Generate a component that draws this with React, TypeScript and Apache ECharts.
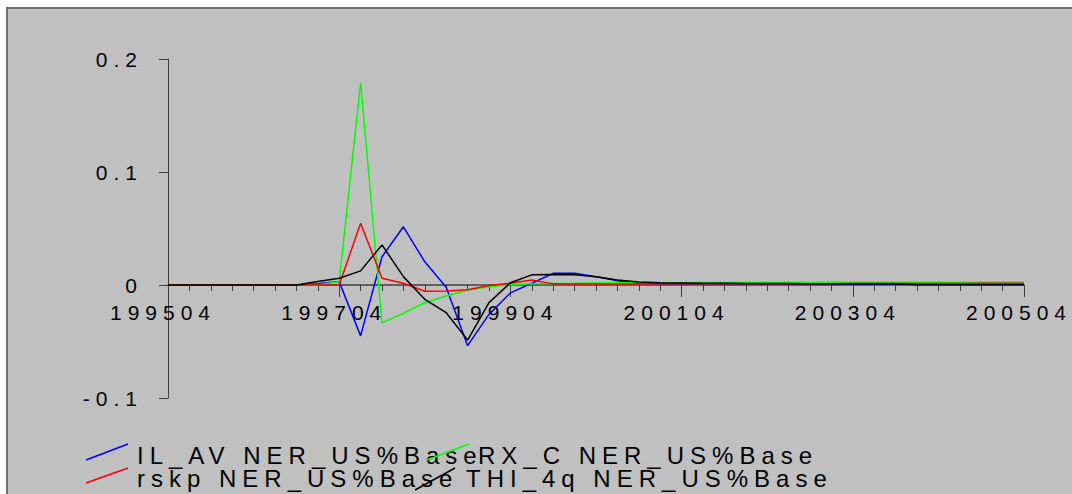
import React, { useEffect, useRef } from "react";
import * as echarts from "echarts";

// Quarterly periods, YYYY0Q
const quarters = [
  "199504",
  "199601", "199602", "199603", "199604",
  "199701", "199702", "199703", "199704",
  "199801", "199802", "199803", "199804",
  "199901", "199902", "199903", "199904",
  "200001", "200002", "200003", "200004",
  "200101", "200102", "200103", "200104",
  "200201", "200202", "200203", "200204",
  "200301", "200302", "200303", "200304",
  "200401", "200402", "200403", "200404",
  "200501", "200502", "200503", "200504",
];

const yTicks = [-0.1, 0, 0.1, 0.2];

// Deviation from base, per quarter
const ilAv = [
  0, 0, 0, 0, 0, 0, 0,
  0.001, 0.003, -0.045, 0.025, 0.0515, 0.0205, -0.002, -0.0537, -0.026, -0.007,
  0.0015, 0.0103, 0.0103, 0.0074, 0.0038, 0.0015,
  0.0012, 0.001, 0.001, 0.0009, 0.0009, 0.0008, 0.0008, 0.0008, 0.0007, 0.0007,
  0.0007, 0.0007, 0.0006, 0.0006, 0.0006, 0.0006, 0.0006, 0.0006,
];

const rxC = [
  0, 0, 0, 0, 0, 0, 0, 0,
  0.003, 0.179, -0.0335, -0.025, -0.0157, -0.0097, -0.0044, -0.0015, 0.0003,
  0.001, 0.0013, 0.0015, 0.0018,
  0.002, 0.002, 0.0021, 0.0021, 0.0022, 0.0022, 0.0022, 0.0023, 0.0023, 0.0023,
  0.0024, 0.0024, 0.0024, 0.0024, 0.0025, 0.0025, 0.0025, 0.0025, 0.0025, 0.0025,
];

const rskp = [
  0, 0, 0, 0, 0, 0, 0, 0, 0,
  0.0546, 0.006, 0.0015, -0.0055, -0.0053, -0.0042, -0.0005, 0.0015, 0.0044, 0.001,
  0.0008, 0.0008, 0.0009, 0.0009, 0.001, 0.001, 0.001, 0.0011, 0.0011, 0.0011,
  0.0012, 0.0012, 0.0012, 0.0013, 0.0013, 0.0013, 0.0014, 0.0014, 0.0014, 0.0015,
  0.0015, 0.0015,
];

const thi4q = [
  0, 0, 0, 0, 0, 0, 0,
  0.003, 0.006, 0.0125, 0.0355, 0.0074, -0.0127, -0.0245, -0.0487, -0.0156, 0.002,
  0.009, 0.0092, 0.009, 0.0074, 0.0044, 0.0027,
  0.002, 0.0018, 0.0016, 0.0015, 0.0014, 0.0013, 0.0013, 0.0012, 0.0012, 0.0012,
  0.0012, 0.0012,
  0.0002, 0.0002, 0.0002, 0.0002, 0.0002, 0.0002,
];

const seriesNames = [
  "IL_AV NER_US%Base",
  "RX_C NER_US%Base",
  "rskp NER_US%Base",
  "THI_4q NER_US%Base",
];
const seriesColors = ["#0000ff", "#00ff00", "#ff0000", "#000000"];
const seriesValues = [ilAv, rxC, rskp, thi4q];

const FONT = "'Liberation Sans', Arial, sans-serif";
const AXIS = "#404040";

// Plot area geometry
const GRID_TOP = 59;
const GRID_HEIGHT = 339;
const GRID_BOTTOM = 494 - GRID_TOP - GRID_HEIGHT;
// distance from the bottom edge of the plot up to the zero line
const ZERO_LIFT =
  (GRID_HEIGHT * (0 - yTicks[0])) / (yTicks[yTicks.length - 1] - yTicks[0]);

export default function App() {
  const ref = useRef<HTMLDivElement>(null);

  useEffect(() => {
    if (!ref.current) return;
    const chart = echarts.init(ref.current, undefined, { renderer: "svg" });

    const legendText = (text: string, x: number, y: number) => ({
      type: "text",
      x,
      y,
      z: 10,
      style: {
        text,
        fill: "#000",
        font: `24px ${FONT}`,
        lineHeight: 20,
        textAlign: "left",
        textVerticalAlign: "middle",
      },
    });
    const legendLine = (color: string, x1: number, y1: number, x2: number, y2: number) => ({
      type: "line",
      z: 11,
      shape: { x1, y1, x2, y2 },
      style: { stroke: color, lineWidth: 1.5 },
    });

    chart.setOption({
      animation: false,
      backgroundColor: "#ffffff",
      grid: { left: 168, right: 48, top: GRID_TOP, bottom: GRID_BOTTOM, containLabel: false },
      xAxis: {
        type: "value",
        position: "bottom",
        offset: -ZERO_LIFT,
        min: 0,
        max: quarters.length - 1,
        interval: 8,
        axisLine: { show: true, onZero: false, lineStyle: { color: AXIS, width: 1.5 } },
        axisTick: { show: true, length: 12, lineStyle: { color: AXIS, width: 1 } },
        minorTick: { show: true, splitNumber: 8, length: 6, lineStyle: { color: AXIS, width: 1 } },
        splitLine: { show: false },
        minorSplitLine: { show: false },
        axisLabel: {
          show: true,
          margin: 17,
          color: "#000",
          fontSize: 21,
          fontFamily: FONT,
          padding: [0, 10, 0, 0],
          formatter: (v: number) => quarters[Math.round(v)] ?? "",
        },
      },
      yAxis: {
        type: "value",
        min: yTicks[0],
        max: yTicks[yTicks.length - 1],
        interval: 0.1,
        axisLine: { show: true, lineStyle: { color: AXIS, width: 1 } },
        axisTick: { show: true, length: 9, lineStyle: { color: AXIS, width: 1 } },
        splitLine: { show: false },
        axisLabel: {
          show: true,
          margin: 25,
          color: "#000",
          fontSize: 21,
          fontFamily: FONT,
          formatter: (v: number) => {
            const r = Math.round(v * 10) / 10;
            return r === 0 ? "0" : String(r);
          },
        },
      },
      graphic: [
        {
          type: "rect",
          z: -10,
          shape: { x: 7, y: 8, width: 1100, height: 520 },
          style: { fill: "#c0c0c0", stroke: "#707070", lineWidth: 2 },
        },
        legendText(seriesNames[0], 137, 455),
        legendText(seriesNames[1], 478, 455),
        legendText(seriesNames[2], 137, 478),
        legendText(seriesNames[3], 466, 478),
        legendLine(seriesColors[0], 86, 460, 128, 444),
        legendLine(seriesColors[1], 427, 460, 469, 444),
        legendLine(seriesColors[2], 86, 483, 128, 468),
        legendLine(seriesColors[3], 415, 490, 455, 468),
      ],
      series: seriesValues.map((vals, k) => ({
        name: seriesNames[k],
        type: "line",
        data: vals.map((v, i) => [i, v]),
        showSymbol: false,
        symbol: "none",
        lineStyle: { color: seriesColors[k], width: 1.5 },
        itemStyle: { color: seriesColors[k] },
        z: 3 + k,
      })),
    });

    return () => chart.dispose();
  }, []);

  return (
    <>
      <style>{`.spaced-chart text { letter-spacing: 6px; }`}</style>
      <div
        ref={ref}
        className="spaced-chart"
        style={{ position: "fixed", left: 0, top: 0, width: 1072, height: 494, background: "#fff" }}
      />
    </>
  );
}
